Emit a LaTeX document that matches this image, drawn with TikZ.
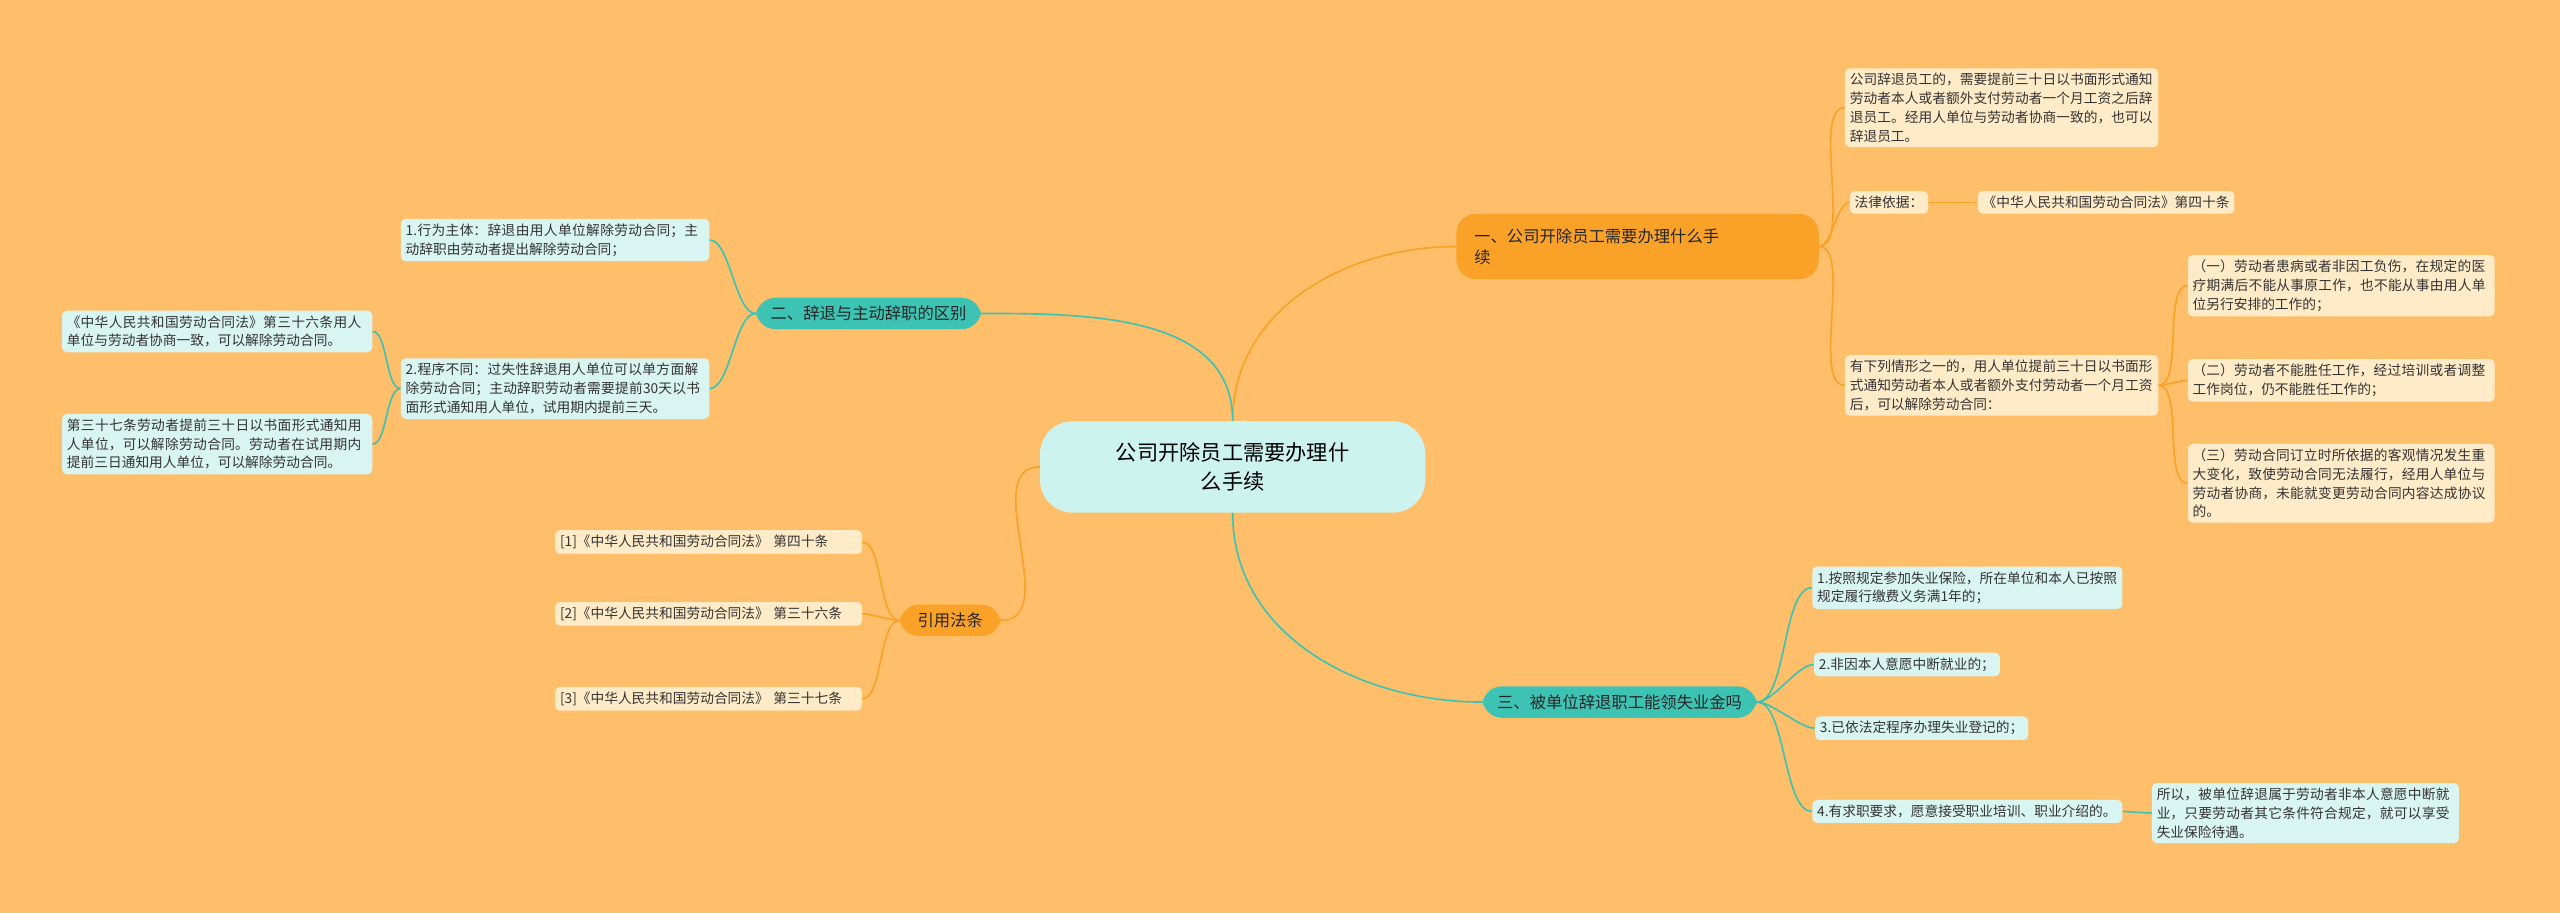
\documentclass[tikz,border=0pt]{standalone}
\usepackage{fontspec}
\setmainfont{Noto Sans CJK SC}
\XeTeXlinebreaklocale "zh"
\XeTeXlinebreakskip=0pt plus 1pt
\definecolor{bg}{HTML}{FFBE69}
\definecolor{ob}{HTML}{F9A227}
\definecolor{tb}{HTML}{3DC3B3}
\definecolor{ol}{HTML}{FFEBC8}
\definecolor{tl}{HTML}{D9F5F1}
\definecolor{rt}{HTML}{CDF3EF}
\begin{document}
\begin{tikzpicture}[x=1pt,y=-1pt,
  base/.style={rounded corners=3pt,inner sep=3pt,font=\fontsize{8.4}{11.5}\selectfont,align=left},
  lo/.style={base,fill=ol,text=black!80},
  lt/.style={base,fill=tl,text=black!80},
  bo/.style={rounded corners=12pt,fill=ob,inner ysep=5pt,inner xsep=11pt,font=\fontsize{10}{13}\selectfont,align=left,text=black!85},
  bt/.style={rounded corners=12pt,fill=tb,inner ysep=5pt,inner xsep=9pt,font=\fontsize{10}{13}\selectfont,align=left,text=black!85},
  co/.style={draw=ob,line width=1pt},
  ct/.style={draw=tb,line width=1pt}]
\fill[bg] (0,0) rectangle (1568,559);
\useasboundingbox (0,0) rectangle (1568,559);
\node[rounded corners=20pt,fill=rt,minimum width=236,minimum height=56,align=center,font=\fontsize{13}{18}\selectfont] (root) at (755,286) {公司开除员工需要办理什\\么手续};
% branch 1
\node[bo,text width=200,minimum height=40] (b1) at (1003,151) {一、公司开除员工需要办理什么手\\续};
\node[lo,text width=186] (a1) at (1226,66) {公司辞退员工的，需要提前三十日以书面形式通知劳动者本人或者额外支付劳动者一个月工资之后辞退员工。经用人单位与劳动者协商一致的，也可以辞退员工。};
\node[lo] (a2) at (1157,124) {法律依据：};
\node[lo] (a2c) at (1290,124) {《中华人民共和国劳动合同法》第四十条};
\node[lo,text width=186] (a3) at (1226,236) {有下列情形之一的，用人单位提前三十日以书面形式通知劳动者本人或者额外支付劳动者一个月工资后，可以解除劳动合同：};
\node[lo,text width=182] (a31) at (1434,175) {（一）劳动者患病或者非因工负伤，在规定的医疗期满后不能从事原工作，也不能从事由用人单位另行安排的工作的；};
\node[lo,text width=182] (a32) at (1434,233) {（二）劳动者不能胜任工作，经过培训或者调整工作岗位，仍不能胜任工作的；};
\node[lo,text width=182] (a33) at (1434,296) {（三）劳动合同订立时所依据的客观情况发生重大变化，致使劳动合同无法履行，经用人单位与劳动者协商，未能就变更劳动合同内容达成协议的。};
% branch 2
\node[bt] (b2) at (532,192) {二、辞退与主动辞职的区别};
\node[lt,text width=183] (c1) at (340,147) {1.行为主体：辞退由用人单位解除劳动合同；主动辞职由劳动者提出解除劳动合同；};
\node[lt,text width=183] (c2) at (340,238) {2.程序不同：过失性辞退用人单位可以单方面解除劳动合同；主动辞职劳动者需要提前30天以书面形式通知用人单位，试用期内提前三天。};
\node[lt,text width=184] (c21) at (133,203) {《中华人民共和国劳动合同法》第三十六条用人单位与劳动者协商一致，可以解除劳动合同。};
\node[lt,text width=184] (c22) at (133,272) {第三十七条劳动者提前三十日以书面形式通知用人单位，可以解除劳动合同。劳动者在试用期内提前三日通知用人单位，可以解除劳动合同。};
% branch 3
\node[bo] (b3) at (582,380) {引用法条};
\node[lo,text width=182] (d1) at (434,332) {[1]《中华人民共和国劳动合同法》 第四十条};
\node[lo,text width=182] (d2) at (434,376) {[2]《中华人民共和国劳动合同法》 第三十六条};
\node[lo,text width=182] (d3) at (434,428) {[3]《中华人民共和国劳动合同法》 第三十七条};
% branch 4
\node[bt] (b4) at (992,430) {三、被单位辞退职工能领失业金吗};
\node[lt,text width=184] (e1) at (1205,360) {1.按照规定参加失业保险，所在单位和本人已按照规定履行缴费义务满1年的；};
\node[lt] (e2) at (1168,407) {2.非因本人意愿中断就业的；};
\node[lt] (e3) at (1177,446) {3.已依法定程序办理失业登记的；};
\node[lt,text width=184] (e4) at (1205,497) {4.有求职要求，愿意接受职业培训、职业介绍的。};
\node[lt,text width=182] (e41) at (1412,498) {所以，被单位辞退属于劳动者非本人意愿中断就业，只要劳动者其它条件符合规定，就可以享受失业保险待遇。};
% connectors
\draw[co] (root.north) to[out=90,in=180] (b1.west);
\draw[ct] (root.north) to[out=90,in=0] (b2.east);
\draw[co] (root.west) to[out=180,in=0] (b3.east);
\draw[ct] (root.south) to[out=-90,in=180] (b4.west);
\foreach \c in {a1,a2,a3} \draw[co] (b1.east) to[out=0,in=180,looseness=0.6] (\c.west);
\draw[co] (a2.east) -- (a2c.west);
\foreach \c in {a31,a32,a33} \draw[co] (a3.east) to[out=0,in=180,looseness=0.6] (\c.west);
\foreach \c in {c1,c2} \draw[ct] (b2.west) to[out=180,in=0,looseness=0.6] (\c.east);
\foreach \c in {c21,c22} \draw[ct] (c2.west) to[out=180,in=0,looseness=0.6] (\c.east);
\foreach \c in {d1,d2,d3} \draw[co] (b3.west) to[out=180,in=0,looseness=0.6] (\c.east);
\foreach \c in {e1,e2,e3,e4} \draw[ct] (b4.east) to[out=0,in=180,looseness=0.6] (\c.west);
\draw[ct] (e4.east) -- (e41.west);
\end{tikzpicture}
\end{document}
